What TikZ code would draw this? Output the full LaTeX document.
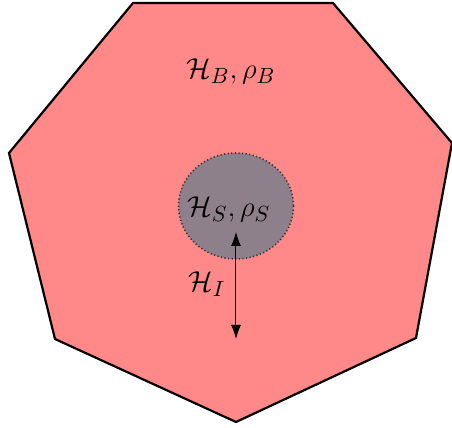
\documentclass[tikz,border=0pt]{standalone}
\usetikzlibrary{arrows.meta}
\definecolor{bathpink}{RGB}{255,136,136}
\definecolor{sysgray}{RGB}{142,128,138}
\begin{document}
\begin{tikzpicture}[x=0.5pt,y=-0.5pt,
  lbl/.style={font=\fontsize{15.5}{18}\selectfont, inner sep=0pt},
  bath/.style={fill=bathpink, draw=black, line width=1.1pt, line join=miter},
  sys/.style={fill=sysgray, draw=black!80, line width=0.8pt, dash pattern=on 0.6pt off 1.2pt},
  link/.style={line width=0.5pt, {Latex[length=7pt,width=5pt]}-{Latex[length=7pt,width=5pt]}}]
\useasboundingbox (0,0) rectangle (452,428);
\draw[bath] (133,3) -- (333,3) -- (452,143) -- (416,338) -- (236,422) -- (55,339) -- (9,153) -- cycle;
\draw[sys] (236,206) ellipse [x radius=57.5, y radius=53];
\node[lbl] (hb) at (231,71) {$\mathcal{H}_B,\rho_B$};
\node[lbl] (hs) at (229,209) {$\mathcal{H}_S,\rho_S$};
\coordinate (top) at (236,232);
\coordinate (bot) at (236,339);
\draw[link] (top) -- (bot);
\node[lbl] (hi) at (207,284) {$\mathcal{H}_I$};
\end{tikzpicture}
\end{document}
